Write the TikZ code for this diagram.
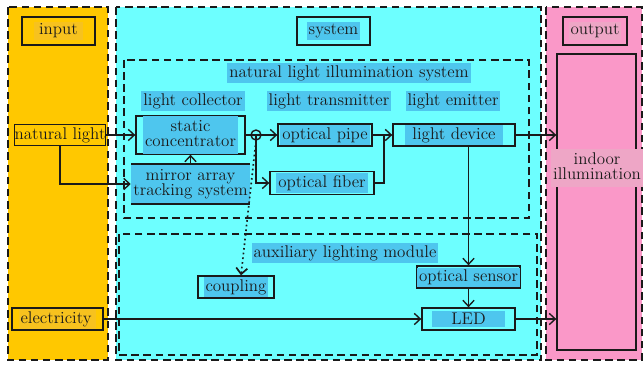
\documentclass[tikz,border=0pt]{standalone}
\usepackage{tikz}
\usetikzlibrary{arrows.meta}
\definecolor{inorange}{HTML}{FFC800}
\definecolor{sysblue}{HTML}{6DFFFF}
\definecolor{outpink}{HTML}{FA98C8}
\definecolor{hlblue}{HTML}{4EC6EE}
\definecolor{hlorange}{HTML}{F7C21E}
\definecolor{hlpink}{HTML}{EEA6C6}
\definecolor{ink}{HTML}{1A1A1A}
\newdimen\pxu \pxu=0.66pt
\newcommand{\arw}{-{Straight Barb[length=1.4mm,width=2.6mm]}}
\newcommand{\hl}[2][hlblue]{{\setlength{\fboxsep}{1.3pt}\colorbox{#1}{#2}}}
\newcommand{\two}[2]{\begin{tabular}{@{}c@{}}#1\\[-2pt]#2\end{tabular}}
\tikzset{
  panel/.style={draw=ink, line width=1.2pt, dash pattern=on 5pt off 3pt},
  box/.style={draw=ink, line width=0.9pt, inner sep=0pt, align=center},
  lbl/.style={inner sep=0pt, text=ink}
}

\begin{document}
\begin{tikzpicture}[x=0.66pt,y=-0.66pt, line width=0.9pt, draw=ink, text=ink,
  every node/.append style={font=\fontsize{11.2}{12}\selectfont}]
\useasboundingbox (0,0) rectangle (644,365);
%columns
\draw[panel, fill=inorange] (8,7) rectangle (108,360);
\draw[panel, fill=sysblue] (116,7) rectangle (541,360);
\draw[panel, fill=outpink] (546,7) rectangle (642,360);
\draw[panel] (124,60) rectangle (529,218);
\draw[panel] (119,234) rectangle (537,355);
%headers
\node[box, minimum width=73\pxu, minimum height=28\pxu] (inp) at (58.5,31) {\hl[hlorange]{\,input\,}};
\node[box, minimum width=73\pxu, minimum height=28\pxu] (sys) at (333.5,31) {\hl{system}};
\node[box, minimum width=64\pxu, minimum height=28\pxu] (outp) at (595,31) {\hl[hlpink]{output}};
\node[lbl] (nlis) at (349,73) {\hl{natural light illumination system}};
\node[lbl] (coll) at (193,101) {\hl{light collector}};
\node[lbl] (trans) at (329,101) {\hl{light transmitter}};
\node[lbl] (emit) at (453,101) {\hl{light emitter}};
\node[lbl] (alm) at (345,253) {\hl{auxiliary lighting module}};
%blocks
\node[box, minimum width=86\pxu, minimum height=21\pxu] (nat) at (60,135) {natural light};
\node[box, minimum width=91\pxu, minimum height=22\pxu] (elec) at (57.5,319) {\hl[hlorange]{electricity\,}};
\node[box, minimum width=109\pxu, minimum height=38\pxu] (sc) at (190.5,135) {\hl{\two{static}{concentrator}}};
\node[box, minimum width=109\pxu, minimum height=40\pxu] (mir) at (190.5,184) {\hl{\two{mirror array}{tracking system}}};
\node[box, minimum width=94\pxu, minimum height=22\pxu] (pipe) at (325,135) {\hl{optical pipe}};
\node[box, minimum width=104\pxu, minimum height=23\pxu] (fiber) at (322,183) {\hl{optical fiber}};
\node[box, minimum width=122\pxu, minimum height=22\pxu] (dev) at (454,135) {\hl{\ light device\ }};
\node[box, minimum width=76\pxu, minimum height=22\pxu] (coup) at (236,287) {\hl{coupling}};
\node[box, minimum width=93\pxu, minimum height=22\pxu] (sens) at (468.5,277) {\hl{optical sensor}};
\node[box, minimum width=93\pxu, minimum height=22\pxu] (led) at (468.5,319) {\hl{\quad LED\quad}};
\node[box, minimum width=79\pxu, minimum height=296\pxu] (ind) at (596.5,202) {};
\node[lbl] (indtxt) at (597,168) {\hl[hlpink]{\two{indoor}{illumination}}};
\node[circle, draw=ink, minimum size=10\pxu, inner sep=0pt] (jn) at (256,135) {};
\coordinate (mg) at (384,135);
%links
\draw[\arw] (nat) -- (sc);
\draw[\arw] (nat.south) |- (mir.west);
\draw[\arw] (mir) -- (sc);
\draw[\arw] (sc.east) -- (pipe.west);
\draw[\arw] (jn.center) |- (fiber.west);
\draw[dotted, line width=1.1pt, \arw] (jn.south) -- ([xshift=5\pxu]coup.north);
\draw (pipe.east) -- (mg);
\draw (fiber.east) -| (mg);
\draw[\arw] (mg) -- (dev.west);
\draw[\arw] (dev.east) -- (dev.east -| ind.west);
\draw[\arw] (dev.south -| sens.north) -- (sens.north);
\draw[\arw] (sens) -- (led);
\draw[\arw] (elec) -- (led);
\draw[\arw] (led.east) -- (led.east -| ind.west);
\end{tikzpicture}
\end{document}
